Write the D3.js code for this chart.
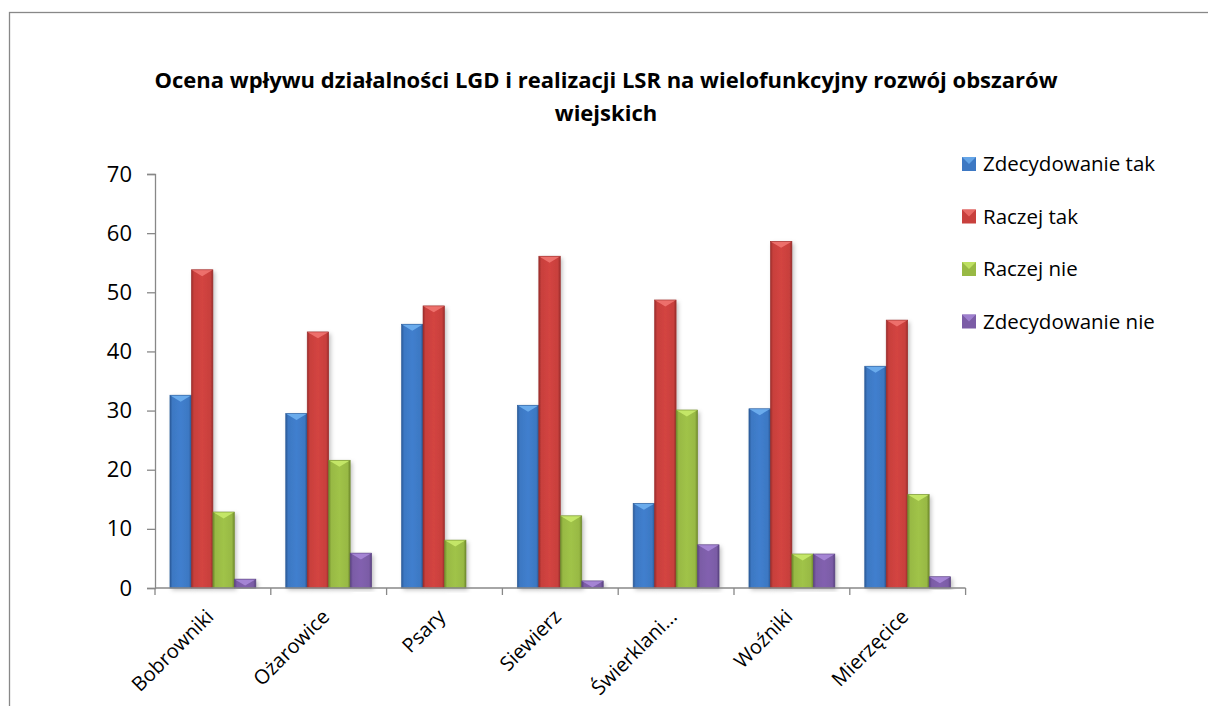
<!DOCTYPE html>
<html><head><meta charset="utf-8">
<script src="https://cdn.jsdelivr.net/npm/d3@7"></script>
<style>body{margin:0;background:#fff;}svg{display:block;font-family:"Open Sans",sans-serif;}</style>
</head><body><svg id="c" width="1208" height="706"></svg>
<script>
const categories = ["Bobrowniki","Ożarowice","Psary","Siewierz","Świerklani...","Woźniki","Mierzęcice"];
const seriesNames = ["Zdecydowanie tak","Raczej tak","Raczej nie","Zdecydowanie nie"];
const zdecydowanieTak = [32.6, 29.5, 44.6, 30.9, 14.3, 30.3, 37.5];
const raczejTak = [53.8, 43.3, 47.7, 56.1, 48.7, 58.6, 45.3];
const raczejNie = [12.85, 21.6, 8.1, 12.2, 30.1, 5.75, 15.8];
const zdecydowanieNie = [1.5, 5.9, 0, 1.2, 7.3, 5.75, 1.9];
const yTicks = [0,10,20,30,40,50,60,70];
const titleLines = ["Ocena wpływu działalności LGD i realizacji LSR na wielofunkcyjny rozwój obszarów","wiejskich"];
const seriesValues = [zdecydowanieTak, raczejTak, raczejNie, zdecydowanieNie];
const colors = ["#3d78c3","#c8403d","#98b944","#7b5ca6"];
const lightColors = ["#6fb0f0","#f07470","#c8ea6a","#a888d8"];
const darkColors = ["#2a5a98","#9a2c2a","#6f8a2c","#5a4280"];

(function(){
const svg = d3.select("#c");
const defs = svg.append("defs");
colors.forEach((c,i)=>{
  const g = defs.append("linearGradient").attr("id","g"+i).attr("x1","0").attr("x2","1").attr("y1","0").attr("y2","0");
  g.append("stop").attr("offset","0").attr("stop-color",darkColors[i]);
  g.append("stop").attr("offset","0.12").attr("stop-color",c);
  g.append("stop").attr("offset","0.5").attr("stop-color",d3.color(c).brighter(0.15));
  g.append("stop").attr("offset","0.88").attr("stop-color",c);
  g.append("stop").attr("offset","1").attr("stop-color",darkColors[i]);
});
const f = defs.append("filter").attr("id","sh").attr("x","-20%").attr("y","-5%").attr("width","150%").attr("height","115%");
f.append("feDropShadow").attr("dx",2).attr("dy",2).attr("stdDeviation",2).attr("flood-color","#000").attr("flood-opacity",0.25);

svg.append("rect").attr("x",9.5).attr("y",12.5).attr("width",1250).attr("height",760).attr("fill","none").attr("stroke","#888").attr("stroke-width",1.3);

svg.append("text").attr("text-anchor","middle").attr("font-weight","bold").attr("font-size",22).attr("fill","#000")
  .selectAll("tspan").data(titleLines).join("tspan").attr("x",606).attr("y",(d,i)=>88+i*33).text(d=>d);

const pl=155, pr=965.6, pt=174, pb=588;
const x = d3.scaleBand().domain(categories).range([pl,pr]).paddingInner(0.258).paddingOuter(0.129);
const xs = d3.scaleBand().domain(d3.range(4)).range([0,x.bandwidth()]);
const y = d3.scaleLinear().domain([0,70]).range([pb,pt]);

const ya = svg.append("g").attr("transform",`translate(${pl},0)`).call(d3.axisLeft(y).tickValues(yTicks).tickSize(8).tickPadding(15));
ya.select(".domain").attr("stroke","#888").attr("stroke-width",1.3);
ya.selectAll(".tick line").attr("stroke","#888").attr("stroke-width",1.3);
ya.selectAll("text").attr("font-size",22).attr("fill","#000").attr("font-family","Open Sans, sans-serif");

const groups = svg.append("g").selectAll("g").data(categories).join("g").attr("transform",d=>`translate(${x(d)},0)`);
seriesValues.forEach((vals,si)=>{
  groups.each(function(cat,ci){
    const v = vals[ci];
    if(!(v>0)) return;
    const g = d3.select(this);
    const bx = xs(si), bw = xs.bandwidth(), by = y(v), bh = pb-y(v);
    g.append("rect").attr("x",bx).attr("y",by).attr("width",bw).attr("height",bh).attr("fill",`url(#g${si})`).attr("filter","url(#sh)");
    const th = Math.min(bw*0.3, bh);
    g.append("path").attr("d",`M${bx},${by}L${bx+bw},${by}L${bx+bw/2},${by+th}Z`).attr("fill",lightColors[si]).attr("opacity",0.9);
    g.append("rect").attr("x",bx).attr("y",by).attr("width",bw).attr("height",bh).attr("fill","none").attr("stroke",darkColors[si]).attr("stroke-width",0.6);
  });
});

const xa = svg.append("g").attr("transform",`translate(0,${pb})`);
xa.append("line").attr("x1",pl).attr("x2",pr).attr("y1",0).attr("y2",0).attr("stroke","#888").attr("stroke-width",1.3);
const bounds = categories.map(c=>x(c)-x.step()*x.paddingInner()/2).concat([pr]);
xa.selectAll("line.t").data(bounds).join("line").attr("class","t").attr("x1",d=>d).attr("x2",d=>d).attr("y1",0).attr("y2",7).attr("stroke","#888").attr("stroke-width",1.3);
xa.selectAll("text").data(categories).join("text")
  .attr("transform",d=>`translate(${x(d)+x.bandwidth()/2+2},${30}) rotate(-45)`)
  .attr("text-anchor","end").attr("font-size",20).attr("fill","#000").text(d=>d);

const lg = svg.append("g").selectAll("g").data(seriesNames).join("g").attr("transform",(d,i)=>`translate(962,${164+i*52.5})`);
lg.append("rect").attr("x",0).attr("y",-7).attr("width",14).attr("height",14).attr("fill",(d,i)=>colors[i]);
lg.append("path").attr("d","M0,-7L14,-7L7,0Z").attr("fill",(d,i)=>lightColors[i]).attr("opacity",0.8);
lg.append("text").attr("x",21).attr("y",0).attr("dy","0.35em").attr("font-size",20.5).attr("fill","#000").text(d=>d);
})();
</script></body></html>
